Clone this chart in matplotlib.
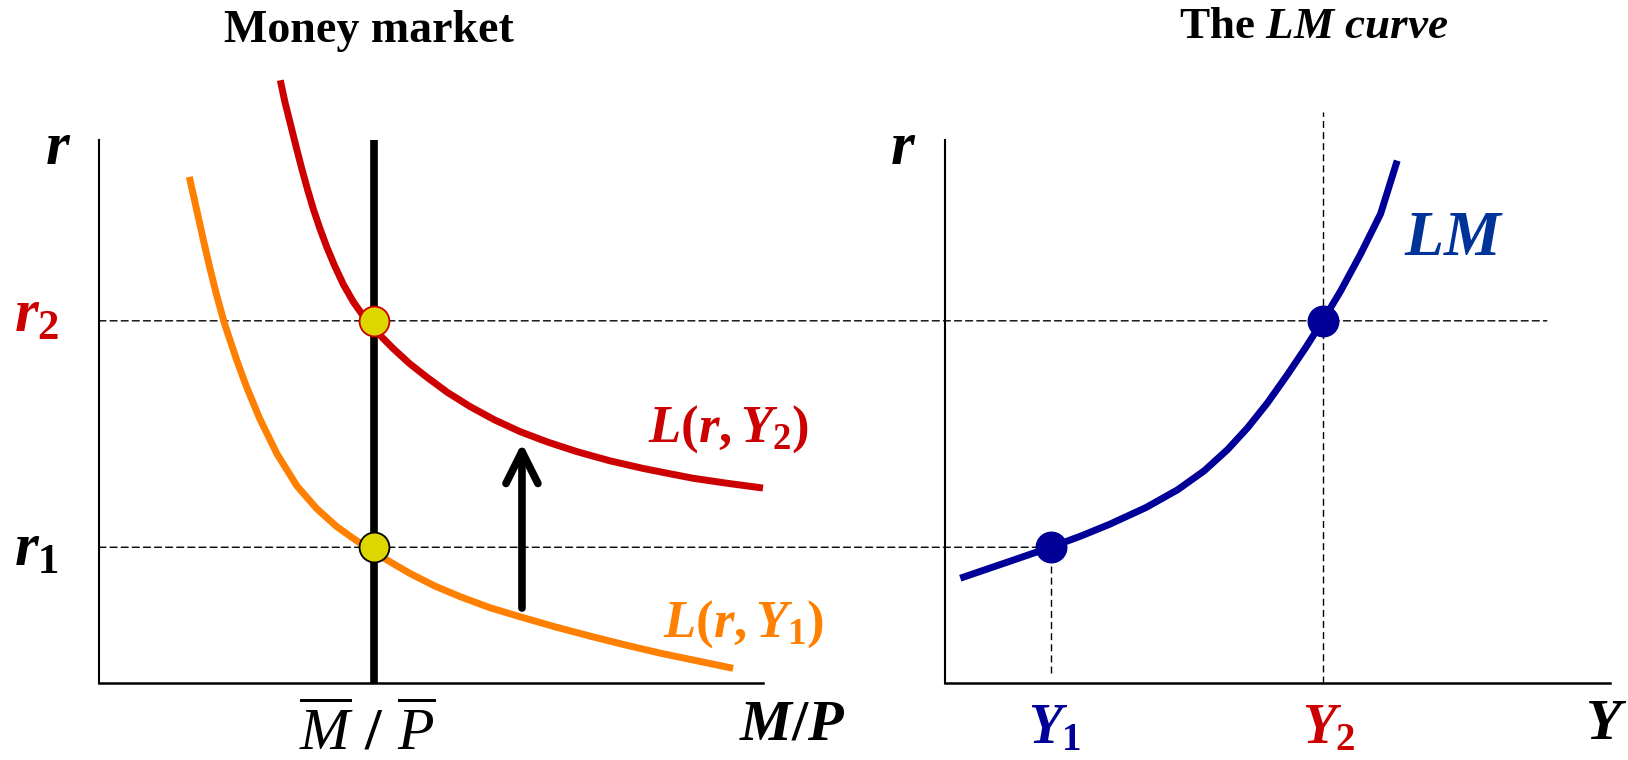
import matplotlib
matplotlib.use("Agg")
import matplotlib.pyplot as plt
from matplotlib.patches import ConnectionPatch

red = '#CC0000'
orange = '#FF8000'
blue = '#000099'
lm_blue = '#003399'
yellow = '#DDD600'

plt.rcParams['font.family'] = ['Liberation Serif', 'DejaVu Serif']
plt.rcParams['mathtext.fontset'] = 'custom'
plt.rcParams['mathtext.it'] = 'Liberation Serif:italic:bold'
plt.rcParams['mathtext.rm'] = 'Liberation Serif:bold'
plt.rcParams['mathtext.bf'] = 'Liberation Serif:bold'
plt.rcParams['mathtext.sf'] = 'Liberation Serif:italic'

# money market (left panel), units 0..10 on both axes
money_supply = 4.14
r1 = 2.50
r2 = 6.67

L2_x = [2.73, 2.80, 2.88, 2.97, 3.05, 3.14, 3.23, 3.33, 3.43, 3.55,
        3.68, 3.83, 3.98, 4.09, 4.26, 4.43, 4.68, 4.94, 5.25, 5.59,
        5.95, 6.34, 6.75, 7.20, 7.70, 8.20, 8.57, 8.95, 9.45, 10.00]
L2_y = [11.10, 10.70, 10.31, 9.87, 9.49, 9.09, 8.72, 8.36, 8.03, 7.68,
        7.34, 7.02, 6.76, 6.60, 6.37, 6.16, 5.88, 5.63, 5.35, 5.09,
        4.85, 4.63, 4.44, 4.26, 4.09, 3.95, 3.86, 3.77, 3.68, 3.59]

L1_x = [1.36, 1.47, 1.57, 1.67, 1.77, 1.89, 2.07, 2.22, 2.42, 2.68,
        2.98, 3.28, 3.58, 3.88, 4.09, 4.40, 4.68, 5.05, 5.44, 5.88,
        6.34, 6.88, 7.44, 7.93, 8.45, 9.00, 9.55]
L1_y = [9.32, 8.72, 8.17, 7.64, 7.15, 6.62, 5.96, 5.46, 4.87, 4.22,
        3.63, 3.21, 2.88, 2.62, 2.45, 2.22, 2.02, 1.79, 1.59, 1.39,
        1.22, 1.03, 0.85, 0.70, 0.55, 0.41, 0.27]

arrow_x = 6.37
arrow_from = 1.38
arrow_to = 4.42

# LM curve (right panel)
Y1 = 1.59
Y2 = 5.68
LM_x = [0.23, 0.90, 1.59, 2.05, 2.47, 3.02, 3.50, 3.90, 4.25, 4.55,
        4.85, 5.15, 5.42, 5.68, 5.95, 6.25, 6.55, 6.80]
LM_y = [1.93, 2.21, 2.50, 2.71, 2.92, 3.23, 3.56, 3.91, 4.30, 4.70,
        5.16, 5.68, 6.17, 6.67, 7.22, 7.90, 8.64, 9.62]
r2_line_end = 9.05
Y1_line_bottom = 0.18
Y2_line_top = 10.52

W, H = 1628, 760


def fx(px):
    return px / W


def fy(py):
    return 1 - py / H


fig = plt.figure(figsize=(W / 100, H / 100), dpi=100)
axL = fig.add_axes([fx(99), fy(683), 664 / W, 543 / H])
axR = fig.add_axes([fx(945), fy(683), 665 / W, 543 / H])

for ax in (axL, axR):
    ax.set_xlim(0, 10)
    ax.set_ylim(0, 10)
    ax.spines['top'].set_visible(False)
    ax.spines['right'].set_visible(False)
    ax.spines['left'].set_linewidth(1.5)
    ax.spines['bottom'].set_linewidth(1.8)
    ax.set_xticks([])
    ax.set_yticks([])
    ax.patch.set_alpha(0)

dash = (0, (5, 3))

# horizontal guides running across both panels, under the axes content
for r, xend in [(r2, r2_line_end), (r1, Y1)]:
    con = ConnectionPatch(xyA=(0, r), coordsA=axL.transData,
                          xyB=(xend, r), coordsB=axR.transData,
                          lw=1.0, ls=dash, color='black', zorder=-1)
    fig.add_artist(con)

# left panel
axL.plot([money_supply, money_supply], [0, 10], color='black', lw=5.5,
         solid_capstyle='butt', zorder=3)
axL.plot(L2_x, L2_y, color=red, lw=5, clip_on=False, zorder=4,
         solid_capstyle='butt', solid_joinstyle='round')
axL.plot(L1_x, L1_y, color=orange, lw=5, clip_on=False, zorder=4,
         solid_capstyle='butt', solid_joinstyle='round')
axL.plot([money_supply], [r2], 'o', ms=21.5, mfc=yellow, mec=red, mew=1.3,
         zorder=5)
axL.plot([money_supply], [r1], 'o', ms=21.5, mfc=yellow, mec='black',
         mew=1.3, zorder=5)
axL.annotate('', xy=(arrow_x, arrow_to), xytext=(arrow_x, arrow_from),
             arrowprops=dict(arrowstyle='->,head_length=2.3,head_width=1.15',
                             mutation_scale=10, lw=5.5, color='black',
                             shrinkA=0, shrinkB=0, capstyle='round'),
             zorder=4)

# right panel
axR.plot([Y1, Y1], [Y1_line_bottom, r1], color='black', lw=1.0, ls=dash,
         zorder=1)
axR.plot([Y2, Y2], [0, Y2_line_top], color='black', lw=1.0, ls=dash,
         clip_on=False, zorder=1)
axR.plot(LM_x, LM_y, color=blue, lw=5, solid_capstyle='butt',
         solid_joinstyle='round', zorder=3)
axR.plot([Y1, Y2], [r1, r2], 'o', ms=22, color=blue, zorder=4)

# text
fig.text(fx(369), fy(41.5), 'Money market', fontsize=33, fontweight='bold',
         ha='center', va='baseline')
fig.text(fx(1314), fy(38), r'The $LM$ $curve$', fontsize=32.5,
         fontweight='bold', ha='center', va='baseline')

big = 44
fig.text(fx(58), fy(164), r'$r$', fontsize=big, ha='center', va='baseline')
fig.text(fx(903), fy(164), r'$r$', fontsize=big, ha='center', va='baseline')
fig.text(fx(14), fy(332), r'$r_2$', fontsize=big, color=red, ha='left',
         va='baseline')
fig.text(fx(14), fy(566), r'$r_1$', fontsize=big, color='black', ha='left',
         va='baseline')
fig.text(fx(739), fy(739), r'$M/P$', fontsize=42, ha='left', va='baseline')
fig.text(fx(367), fy(750), r'$\overline{\mathsf{M}}\ /\ \overline{\mathsf{P}}$',
         fontsize=43, ha='center', va='baseline')
fig.text(fx(648), fy(442), r'$L(r,Y_2)$', fontsize=38, color=red,
         ha='left', va='baseline')
fig.text(fx(663), fy(637), r'$L(r,Y_1)$', fontsize=38, color=orange,
         ha='left', va='baseline')
fig.text(fx(1404), fy(255), r'$LM$', fontsize=46, color=lm_blue,
         ha='left', va='baseline')
fig.text(fx(1585), fy(739), r'$Y$', fontsize=42, ha='left', va='baseline')
fig.text(fx(1028), fy(743), r'$Y_1$', fontsize=40, color=blue, ha='left',
         va='baseline')
fig.text(fx(1302), fy(743), r'$Y_2$', fontsize=40, color=red, ha='left',
         va='baseline')

plt.savefig('out.png', dpi=100)
